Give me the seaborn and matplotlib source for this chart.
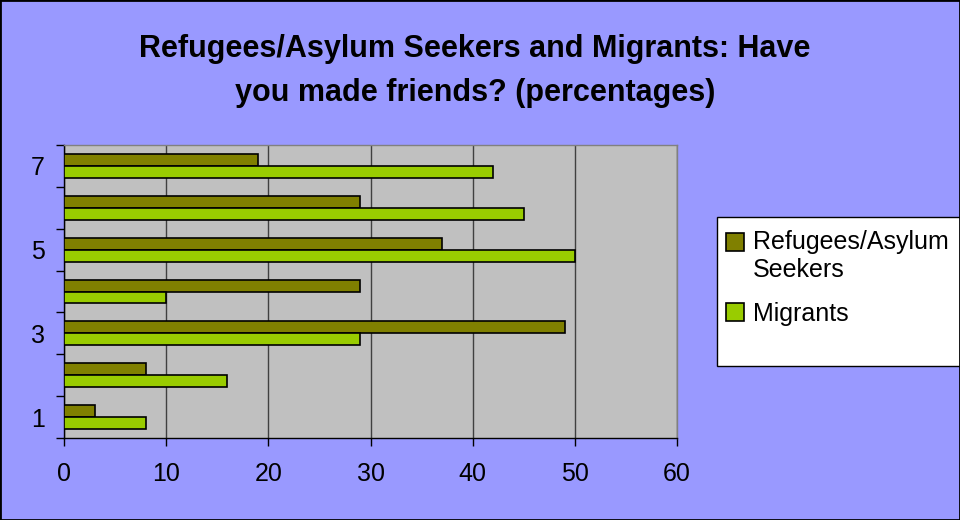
import pandas as pd
import matplotlib.pyplot as plt
import seaborn as sns
from matplotlib.patches import Rectangle
from matplotlib.legend_handler import HandlerPatch

# Données
categories = ["1", "2", "3", "4", "5", "6", "7"]
refugees = [3, 8, 49, 29, 37, 29, 19]
migrants = [8, 16, 29, 10, 50, 45, 42]
series_names = ["Refugees/Asylum\nSeekers", "Migrants"]
x_ticks = [0, 10, 20, 30, 40, 50, 60]
title = "Refugees/Asylum Seekers and Migrants: Have\nyou made friends? (percentages)"
colors = ["#808000", "#99CC00"]

df = pd.DataFrame({
    "Categorie": categories * 2,
    "Valeur": refugees + migrants,
    "Groupe": [series_names[0]] * len(categories) + [series_names[1]] * len(categories),
})

sns.set_style("white")
plt.rcParams["font.family"] = ["Liberation Sans", "DejaVu Sans"]
plt.rcParams["text.color"] = "black"
plt.rcParams["xtick.color"] = "black"
plt.rcParams["ytick.color"] = "black"

fig = plt.figure(figsize=(9.6, 5.2), dpi=100, facecolor="#9999FF")
ax = fig.add_axes([64 / 960, 82 / 520, 613 / 960, 293 / 520])
ax.set_facecolor("#C0C0C0")

order = categories[::-1]
sns.barplot(data=df, x="Valeur", y="Categorie", hue="Groupe", order=order,
            hue_order=series_names, palette=colors, saturation=1,
            orient="h", width=0.57, edgecolor="black", linewidth=1.2,
            ax=ax, zorder=3)
ax.legend_.remove()

ax.set_xlim(0, 60)
ax.set_ylim(len(categories) - 0.5, -0.5)
ax.set_xticks(x_ticks)
ax.set_xticklabels([str(v) for v in x_ticks], fontsize=18)
ax.grid(axis="x", color="#404040", linewidth=1, zorder=0)
ax.set_axisbelow(True)

# ticks aux limites des catégories, étiquettes 7, 5, 3, 1 seulement
ax.set_yticks([i - 0.5 for i in range(len(categories) + 1)])
ax.set_yticklabels([])
lab_pos = [i for i, c in enumerate(order) if int(c) % 2 == 1]
ax.set_yticks(lab_pos, minor=True)
ax.set_yticklabels([order[i] for i in lab_pos], minor=True, fontsize=18)
ax.tick_params(axis="y", which="major", direction="out", length=6, width=1, color="black", left=True)
ax.tick_params(axis="y", which="minor", length=0, pad=14, left=True)
ax.tick_params(axis="x", direction="out", length=6, width=1, color="black", pad=11, bottom=True)

ax.set_xlabel("")
ax.set_ylabel("")
for s in ["left", "bottom"]:
    ax.spines[s].set_color("black")
    ax.spines[s].set_linewidth(1)
for s in ["top", "right"]:
    ax.spines[s].set_color("#808080")
    ax.spines[s].set_linewidth(1)

fig.text(475 / 960, 1 - 71 / 520, title, ha="center", va="center",
         fontsize=22, fontweight="bold", linespacing=1.62)


# carré de légende aligné sur la première ligne du texte
class TopSquare(HandlerPatch):
    def __init__(self, shift=0.0):
        super().__init__()
        self.shift = shift

    def create_artists(self, legend, orig_handle, xdescent, ydescent,
                       width, height, fontsize, trans):
        p = Rectangle((-xdescent, -ydescent + self.shift * fontsize), width, height,
                      facecolor=orig_handle.get_facecolor(), edgecolor="black",
                      linewidth=1.2, transform=trans)
        return [p]


# cadre de la légende
fig.patches.append(Rectangle((717 / 960, 154 / 520), 250 / 960, 149 / 520,
                             transform=fig.transFigure, facecolor="white",
                             edgecolor="black", linewidth=1))
handles = [Rectangle((0, 0), 1, 1, facecolor=c, edgecolor="black") for c in colors]
fig.legend(handles, series_names, loc="upper left",
           bbox_to_anchor=(726 / 960, 1 - 230 / 520), frameon=False,
           fontsize=18, handlelength=0.72, handleheight=0.72,
           handletextpad=0.35, labelspacing=0.8, borderaxespad=0, borderpad=0,
           handler_map={handles[0]: TopSquare(0.6), handles[1]: TopSquare(0.0)})

# bordure de la figure
fig.patches.append(Rectangle((0, 0), 1, 1, transform=fig.transFigure,
                             fill=False, edgecolor="black", linewidth=2))

plt.savefig("out.png", dpi=100, facecolor=fig.get_facecolor())
